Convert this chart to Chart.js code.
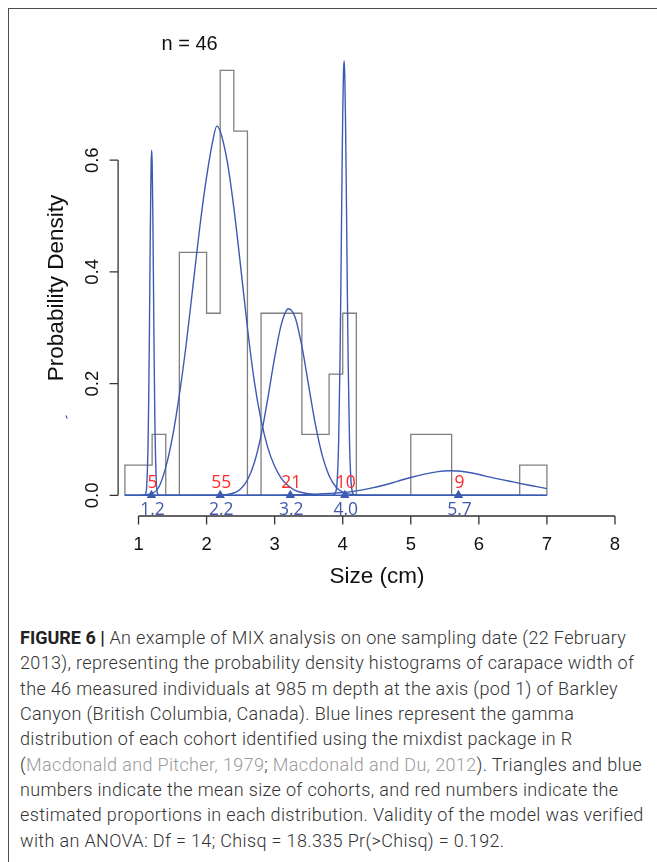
<!DOCTYPE html>
<html>
<head>
<meta charset="utf-8">
<script src="https://cdn.jsdelivr.net/npm/chart.js@4.4.1/dist/chart.umd.min.js"></script>
<style>
  html, body { margin: 0; padding: 0; background: #fff; }
  body { width: 657px; height: 862px; position: relative; overflow: hidden; }
  #frame { position: absolute; left: 7.5px; top: 7.5px; width: 700px; height: 900px;
           border-top: 1.5px solid #4d4d4d; border-left: 1.5px solid #4d4d4d; }
  #chart { position: absolute; left: 0; top: 0; }
  #caption { position: absolute; left: 20px; top: 625px; font-family: Roboto, sans-serif;
             font-weight: 300; font-size: 18px; letter-spacing: 0.35px; line-height: 25.33px;
             color: #333; white-space: nowrap; }
  #caption b { font-weight: 700; color: #222; letter-spacing: 0; }
  #caption .ref { color: #9a9a9a; }
</style>
</head>
<body>
<div id="frame"></div>
<canvas id="chart" width="657" height="610"></canvas>
<div id="caption">
<div><b>FIGURE 6 |</b> An example of MIX analysis on one sampling date (22 February</div>
<div>2013), representing the probability density histograms of carapace width of</div>
<div>the 46 measured individuals at 985 m depth at the axis (pod 1) of Barkley</div>
<div>Canyon (British Columbia, Canada). Blue lines represent the gamma</div>
<div>distribution of each cohort identified using the mixdist package in R</div>
<div>(<span class="ref">Macdonald and Pitcher, 1979</span>; <span class="ref">Macdonald and Du, 2012</span>). Triangles and blue</div>
<div>numbers indicate the mean size of cohorts, and red numbers indicate the</div>
<div>estimated proportions in each distribution. Validity of the model was verified</div>
<div>with an ANOVA: Df = 14; Chisq = 18.335 Pr(&gt;Chisq) = 0.192.</div>
</div>
<script>
// histogram (probability density, n = 46)
const binEdges = [0.8, 1.2, 1.4, 1.6, 2.0, 2.2, 2.4, 2.6, 2.8, 3.4, 3.8, 4.0, 4.2, 5.0, 5.6, 6.6, 7.0];
const binDensity = [0.054, 0.109, 0, 0.435, 0.326, 0.761, 0.652, 0, 0.326, 0.109, 0.217, 0.326, 0, 0.109, 0, 0.054];

// fitted cohort curves
const cohort1X = [0.8, 1.0, 1.08, 1.10, 1.12, 1.14, 1.15, 1.16, 1.17, 1.18, 1.185, 1.193, 1.20, 1.21, 1.22, 1.23, 1.24, 1.26, 1.28, 1.30, 1.4, 7.0];
const cohort1Y = [0, 0, 0.0001, 0.0017, 0.016, 0.090, 0.174, 0.293, 0.430, 0.550, 0.591, 0.618, 0.597, 0.507, 0.375, 0.242, 0.136, 0.028, 0.003, 0.0003, 0, 0];

const cohort2X = [0.8, 1.0, 1.1, 1.2, 1.3, 1.4, 1.5, 1.6, 1.7, 1.8, 1.9, 2.0, 2.1, 2.15, 2.2, 2.3, 2.4, 2.5, 2.6, 2.7, 2.8, 2.9, 3.0, 3.1, 3.2, 3.3, 3.4, 3.6, 3.8, 4.2, 7.0];
const cohort2Y = [0, 0, 0.001, 0.003, 0.015, 0.050, 0.105, 0.180, 0.270, 0.375, 0.480, 0.570, 0.640, 0.661, 0.652, 0.600, 0.515, 0.410, 0.300, 0.205, 0.135, 0.085, 0.052, 0.030, 0.017, 0.009, 0.005, 0.0013, 0.0003, 0, 0];

const cohort3X = [0.8, 2.2, 2.4, 2.5, 2.6, 2.7, 2.8, 2.9, 3.0, 3.1, 3.2, 3.3, 3.4, 3.5, 3.6, 3.7, 3.8, 3.9, 4.0, 4.2, 4.4, 7.0];
const cohort3Y = [0, 0.0004, 0.0042, 0.0114, 0.0275, 0.058, 0.107, 0.174, 0.247, 0.307, 0.334, 0.319, 0.267, 0.196, 0.126, 0.071, 0.035, 0.015, 0.0057, 0.0006, 0, 0];

const cohort4X = [0.8, 3.85, 3.90, 3.92, 3.94, 3.96, 3.97, 3.98, 3.99, 4.00, 4.01, 4.02, 4.03, 4.04, 4.05, 4.06, 4.07, 4.08, 4.10, 4.12, 4.14, 4.18, 7.0];
const cohort4Y = [0, 0, 0.0068, 0.029, 0.095, 0.239, 0.343, 0.458, 0.579, 0.682, 0.753, 0.778, 0.753, 0.682, 0.579, 0.458, 0.343, 0.239, 0.095, 0.029, 0.0068, 0.0004, 0];

const cohort5X = [0.8, 3.0, 3.4, 3.6, 3.8, 4.0, 4.2, 4.4, 4.6, 4.8, 5.0, 5.2, 5.4, 5.55, 5.7, 5.9, 6.1, 6.3, 6.5, 6.7, 6.85, 7.0];
const cohort5Y = [0, 0.0002, 0.001, 0.002, 0.0035, 0.005, 0.008, 0.0125, 0.018, 0.025, 0.032, 0.038, 0.0425, 0.044, 0.0435, 0.040, 0.0345, 0.029, 0.024, 0.019, 0.0155, 0.012];

// cohort means (triangles, blue labels) and proportions (red labels)
const cohortMeans = [1.19, 2.20, 3.23, 4.03, 5.70];
const meanLabels = ['1.2', '2.2', '3.2', '4.0', '5.7'];
const propLabels = ['5', '55', '21', '10', '9'];

const xTicks = [1, 2, 3, 4, 5, 6, 7, 8];
const yTicks = [0, 0.2, 0.4, 0.6];
const yTickLabels = ['0.0', '0.2', '0.4', '0.6'];

const BLUE = '#3b5bb3';
const BLUE_TXT = '#4259a8';
const RED = '#ff2b2b';
const INK = '#333333';

function pairs(xs, ys) {
  return xs.map((x, i) => ({ x: x, y: ys[i] }));
}

// outline of the histogram as a step line
const histPoints = [{ x: binEdges[0], y: 0 }];
binDensity.forEach((d, i) => histPoints.push({ x: binEdges[i], y: d }));
histPoints.push({ x: binEdges[binEdges.length - 1], y: 0 });

function curve(xs, ys) {
  return {
    type: 'line',
    data: pairs(xs, ys),
    borderColor: BLUE,
    borderWidth: 1.4,
    pointRadius: 0,
    fill: false,
    cubicInterpolationMode: 'monotone'
  };
}

const rAxes = {
  id: 'rAxes',
  afterDatasetsDraw(chart) {
    const ctx = chart.ctx;
    const xs = chart.scales.x, ys = chart.scales.y;
    ctx.save();

    // cohort labels
    ctx.textAlign = 'center';
    ctx.textBaseline = 'alphabetic';
    ctx.font = '17.5px "Open Sans", sans-serif';
    cohortMeans.forEach((m, i) => {
      const px = xs.getPixelForValue(m) + 1;
      ctx.fillStyle = RED;
      ctx.fillText(propLabels[i], px, ys.getPixelForValue(0) - 7);
      ctx.fillStyle = BLUE_TXT;
      ctx.fillText(meanLabels[i], px, ys.bottom - 1);
    });

    ctx.strokeStyle = INK;
    ctx.lineWidth = 1.3;
    ctx.fillStyle = '#111';

    // x axis
    const ay = ys.bottom;
    ctx.beginPath();
    ctx.moveTo(xs.getPixelForValue(xTicks[0]), ay);
    ctx.lineTo(xs.getPixelForValue(xTicks[xTicks.length - 1]), ay);
    xTicks.forEach(t => {
      const px = xs.getPixelForValue(t);
      ctx.moveTo(px, ay);
      ctx.lineTo(px, ay + 8.5);
    });
    ctx.stroke();
    ctx.font = '18.5px "Liberation Sans", Arial, sans-serif';
    xTicks.forEach(t => ctx.fillText(String(t), xs.getPixelForValue(t), ay + 34));

    // y axis
    const ax = xs.left;
    ctx.beginPath();
    ctx.moveTo(ax, ys.getPixelForValue(yTicks[0]));
    ctx.lineTo(ax, ys.getPixelForValue(yTicks[yTicks.length - 1]));
    yTicks.forEach(t => {
      const py = ys.getPixelForValue(t);
      ctx.moveTo(ax, py);
      ctx.lineTo(ax - 8.5, py);
    });
    ctx.stroke();
    yTicks.forEach((t, i) => {
      ctx.save();
      ctx.translate(ax - 20.5, ys.getPixelForValue(t));
      ctx.rotate(-Math.PI / 2);
      ctx.fillText(yTickLabels[i], 0, 0);
      ctx.restore();
    });

    // axis titles
    ctx.font = '22.5px "Liberation Sans", Arial, sans-serif';
    ctx.fillText('Size (cm)', 377, ay + 67);
    ctx.save();
    ctx.translate(63, 288);
    ctx.rotate(-Math.PI / 2);
    ctx.fillText('Probability Density', 0, 0);
    ctx.restore();

    // sample size
    ctx.textAlign = 'left';
    ctx.font = '20px "Liberation Sans", Arial, sans-serif';
    ctx.fillText('n = 46', 161.5, 50);

    // stray mark left of the axis title
    ctx.strokeStyle = BLUE;
    ctx.lineWidth = 1.2;
    ctx.beginPath();
    ctx.moveTo(66, 415.5);
    ctx.lineTo(67.2, 418.5);
    ctx.stroke();

    ctx.restore();
  }
};

new Chart(document.getElementById('chart'), {
  type: 'line',
  data: {
    datasets: [
      {
        type: 'scatter',
        data: cohortMeans.map(m => ({ x: m, y: 0 })),
        pointStyle: 'triangle',
        pointRadius: 5.5,
        pointBackgroundColor: BLUE,
        pointBorderWidth: 0,
        showLine: false
      },
      curve(cohort1X, cohort1Y),
      curve(cohort2X, cohort2Y),
      curve(cohort3X, cohort3Y),
      curve(cohort4X, cohort4Y),
      curve(cohort5X, cohort5Y),
      {
        type: 'line',
        data: histPoints,
        stepped: 'before',
        borderColor: '#7f7f7f',
        borderWidth: 1.3,
        pointRadius: 0,
        fill: false
      }
    ]
  },
  options: {
    responsive: false,
    animation: false,
    events: [],
    layout: { padding: { left: 118.1, right: 35.2, top: 48.5, bottom: 94 } },
    plugins: { legend: { display: false }, tooltip: { enabled: false } },
    scales: {
      x: { type: 'linear', min: 0.7, max: 8.1, display: false },
      y: { type: 'linear', min: -0.037, max: 0.8, display: false }
    }
  },
  plugins: [rAxes]
});
</script>
</body>
</html>
